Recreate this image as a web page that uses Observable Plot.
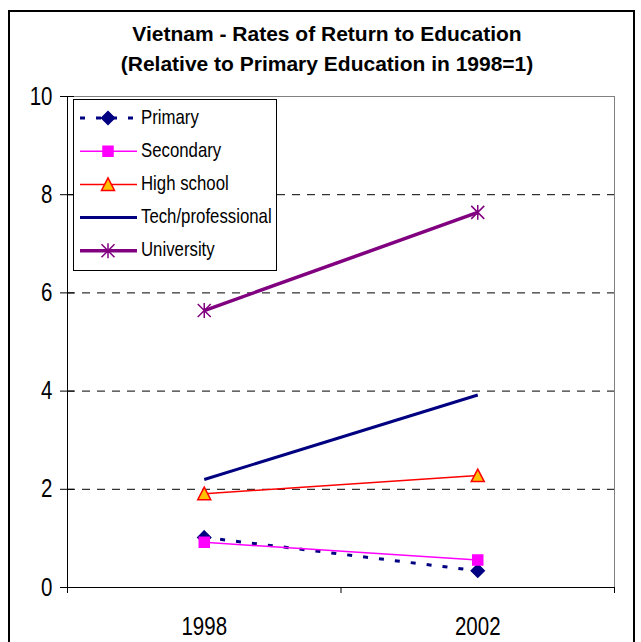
<!DOCTYPE html>
<html>
<head>
<meta charset="utf-8">
<script src="https://cdn.jsdelivr.net/npm/d3@7"></script>
<script src="https://cdn.jsdelivr.net/npm/@observablehq/plot@0.6"></script>
<style>
  html, body { margin: 0; padding: 0; background: #fff; overflow: hidden; }
  #wrap { position: relative; width: 641px; height: 642px; overflow: hidden; }
  #border { position: absolute; left: 8px; top: 10px; width: 627px; height: 700px; border: 2px solid #000; box-sizing: border-box; pointer-events: none; }
  #chart { position: absolute; left: 0; top: 0; }
</style>
</head>
<body>
<div id="wrap"><div id="chart"></div><div id="border"></div></div>
<script>
// ---- data ----
const titleLines = ["Vietnam - Rates of Return to Education", "(Relative to Primary Education in 1998=1)"];
const years = ["1998", "2002"];
const seriesNames = ["Primary", "Secondary", "High school", "Tech/professional", "University"];
const primary = [1.02, 0.34];
const secondary = [0.92, 0.56];
const highSchool = [1.91, 2.28];
const techProfessional = [2.2, 3.92];
const university = [5.64, 7.64];
const yTicks = [0, 2, 4, 6, 8, 10];
const gridTicks = [2, 4, 6, 8];

const seriesValues = [primary, secondary, highSchool, techProfessional, university];

// ---- symbols ----
const sym = (fn) => ({ draw(ctx, size) { fn(ctx, Math.sqrt(size / Math.PI)); } });
const diamond = sym((c, r) => { c.moveTo(0, -r); c.lineTo(r, 0); c.lineTo(0, r); c.lineTo(-r, 0); c.closePath(); });
const square = sym((c, r) => { c.moveTo(-r, -r); c.lineTo(r, -r); c.lineTo(r, r); c.lineTo(-r, r); c.closePath(); });
const triangle = sym((c, r) => { c.moveTo(0, -r); c.lineTo(r, r * 0.92); c.lineTo(-r, r * 0.92); c.closePath(); });
const star = sym((c, r) => {
  c.moveTo(0, -r * 1.15); c.lineTo(0, r * 1.15);
  c.moveTo(-r, -r); c.lineTo(r, r);
  c.moveTo(-r, r); c.lineTo(r, -r);
});

const styles = [
  { stroke: "#000080", width: 3, dash: "5,11", symbol: diamond, r: 6.5, fill: "#000080", mstroke: "#000080" },
  { stroke: "#FF00FF", width: 1.5, dash: null, symbol: square, r: 5, fill: "#FF00FF", mstroke: "#FF00FF" },
  { stroke: "#FF0000", width: 1.5, dash: null, symbol: triangle, r: 6.5, fill: "#FFC000", mstroke: "#FF0000" },
  { stroke: "#000080", width: 3, dash: null, symbol: null },
  { stroke: "#800080", width: 3.5, dash: null, symbol: star, r: 6.5, fill: "none", mstroke: "#800080" }
];

const rows = seriesNames.map((name, s) => years.map((yr, i) => ({ series: name, year: yr, pos: i + 0.5, value: seriesValues[s][i] })));

const sans = "'Liberation Sans', Arial, sans-serif";

const marks = [
  Plot.ruleY(gridTicks, { stroke: "#000", strokeDasharray: "8,7" }),
  Plot.ruleY([10], { stroke: "#808080" }),
  Plot.ruleX([2], { stroke: "#808080" }),
  Plot.ruleX([0], { stroke: "#000" }),
  Plot.ruleY([0], { stroke: "#000" }),
  Plot.axisY({ ticks: yTicks, label: null, tickSize: 14, dx: 7, tickPadding: 8, fontSize: 25, fontFamily: sans, stroke: "#000", fill: "#000", className: "condense" }),
  Plot.axisX({ ticks: [0, 1, 2], label: null, tickSize: 6, tickFormat: () => "", stroke: "#000" }),
  Plot.axisX({ ticks: years.map((d, i) => i + 0.5), label: null, tickSize: 0, tickPadding: 30, tickFormat: (d) => years[Math.floor(d)], fontSize: 25, fontFamily: sans, fill: "#000", className: "condense" }),
  Plot.text([titleLines[0]], { frameAnchor: "top", dy: -62, dx: -14, fontSize: 21, fontWeight: "bold", fontFamily: sans, fill: "#000", lineAnchor: "middle" }),
  Plot.text([titleLines[1]], { frameAnchor: "top", dy: -32, dx: -14, fontSize: 21, fontWeight: "bold", fontFamily: sans, fill: "#000", lineAnchor: "middle" })
];

rows.forEach((data, s) => {
  const st = styles[s];
  marks.push(Plot.line(data, { x: "pos", y: "value", stroke: st.stroke, strokeWidth: st.width, strokeDasharray: st.dash, strokeLinecap: "butt" }));
  if (st.symbol) {
    marks.push(Plot.dot(data, { x: "pos", y: "value", symbol: st.symbol, r: st.r, fill: st.fill, stroke: st.mstroke, strokeWidth: 1.5 }));
  }
});

const plot = Plot.plot({
  width: 641,
  height: 642,
  marginLeft: 67,
  marginRight: 27,
  marginTop: 96,
  marginBottom: 55,
  x: { domain: [0, 2] },
  y: { domain: [0, 10] },
  style: { background: "transparent", color: "#000" },
  marks
});
document.getElementById("chart").appendChild(plot);

const svg = d3.select(plot);
// narrow the axis tick labels horizontally (reference uses a condensed face)
svg.selectAll("[class*='condense'] text").each(function () {
  const t = this.getAttribute("transform") || "";
  this.setAttribute("transform", (t + " scale(0.82,1)").trim());
});

// ---- legend (drawn from the series arrays) ----
const lg = svg.append("g").attr("class", "legend");
lg.append("rect").attr("x", 73.5).attr("y", 99.5).attr("width", 203).attr("height", 171)
  .attr("fill", "#fff").attr("stroke", "#000").attr("stroke-width", 1);
const rowY = (i) => 118 + i * 33.2;
seriesNames.forEach((name, i) => {
  const st = styles[i];
  const y = rowY(i);
  lg.append("line").attr("x1", 80).attr("x2", 137).attr("y1", y).attr("y2", y)
    .attr("stroke", st.stroke).attr("stroke-width", st.width)
    .attr("stroke-dasharray", st.dash ? st.dash : null);
  if (st.symbol) {
    const p = d3.path();
    st.symbol.draw(p, Math.PI * st.r * st.r);
    lg.append("path").attr("d", p.toString()).attr("transform", `translate(108,${y})`)
      .attr("fill", st.fill).attr("stroke", st.mstroke).attr("stroke-width", 1.5);
  }
  lg.append("text").attr("transform", `translate(141,${y + 5.5}) scale(0.84,1)`).text(name)
    .attr("text-anchor", "start")
    .attr("font-family", sans).attr("font-size", 20).attr("fill", "#000");
});
</script>
</body>
</html>
